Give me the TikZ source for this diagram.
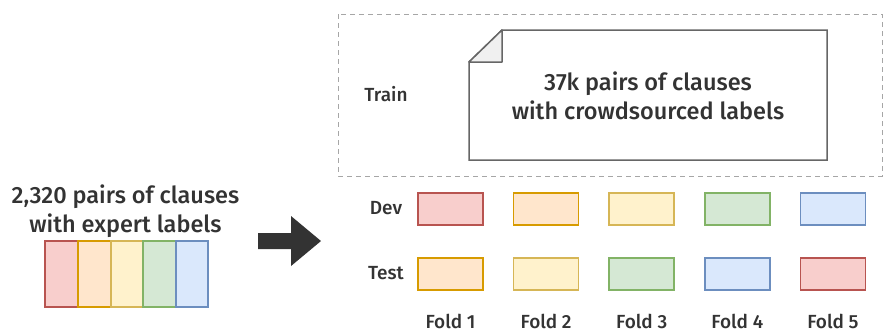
\documentclass[tikz,border=0pt]{standalone}
\usepackage{fontspec}
\setmainfont{Fira Sans Medium}
\definecolor{ink}{HTML}{333333}
\definecolor{redF}{HTML}{F8CECC}\definecolor{redS}{HTML}{B85450}
\definecolor{orgF}{HTML}{FFE6CC}\definecolor{orgS}{HTML}{D79B00}
\definecolor{yelF}{HTML}{FFF2CC}\definecolor{yelS}{HTML}{D6B656}
\definecolor{grnF}{HTML}{D5E8D4}\definecolor{grnS}{HTML}{82B366}
\definecolor{bluF}{HTML}{DAE8FC}\definecolor{bluS}{HTML}{6C8EBF}
\definecolor{noteS}{HTML}{666666}
\definecolor{foldF}{HTML}{F0F0F0}
\definecolor{dashS}{HTML}{A6A6A6}
\begin{document}
\begin{tikzpicture}[x=1pt,y=-1pt,
  bigtext/.style={text=ink,font=\fontsize{23.5}{28.5}\selectfont,align=center,inner sep=0pt},
  smalltext/.style={text=ink,font=\fontsize{19}{22}\selectfont,inner sep=0pt},
  foldbox/.style={draw=#1S,fill=#1F,line width=1.5pt,minimum width=65pt,minimum height=32pt,inner sep=0pt},
  strip/.style={draw=#1S,fill=#1F,line width=1.5pt}]
\useasboundingbox (0,0) rectangle (883,330);

% training area
\draw[dashS,line width=1pt,dash pattern=on 5pt off 4pt] (338,14) rectangle (882,176);
\node[smalltext] (train) at (386,94) {Train};

% note with a folded corner
\draw[noteS,fill=white,line width=1.5pt] (469,62) -- (502,30) -- (827,30) -- (827,160) -- (469,160) -- cycle;
\draw[noteS,fill=foldF,line width=1.5pt,line join=round] (469,62) -- (502,30) -- (502,62) -- cycle;
\node[bigtext] (crowd) at (648,96) {37k pairs of clauses\\with crowdsourced labels};

% expert-labelled data split into five strips
\node[bigtext] (expert) at (125.5,211) {2,320 pairs of clauses\\with expert labels};
\draw[strip=red] (45,241) rectangle (78,307);
\draw[strip=org] (78,241) rectangle (111,307);
\draw[strip=yel] (111,241) rectangle (143,307);
\draw[strip=grn] (143,241) rectangle (176,307);
\draw[strip=blu] (176,241) rectangle (208,307);

% block arrow
\fill[ink] (258,233) -- (291,233) -- (291,216) -- (321,241) -- (291,266) -- (291,249) -- (258,249) -- cycle;

% folds
\node[smalltext] (dev) at (386,208) {Dev};
\node[smalltext] (test) at (386,273) {Test};
\foreach \i/\d/\t [count=\k] in {0/red/org,1/org/yel,2/yel/grn,3/grn/blu,4/blu/red}{
  \node[foldbox=\d] (dev\k) at (450.5+95.6*\i,209) {};
  \node[foldbox=\t] (test\k) at (450.5+95.6*\i,274) {};
  \node[smalltext] (fold\k) at (450.5+95.6*\i,321) {Fold \k};
}
\end{tikzpicture}
\end{document}
